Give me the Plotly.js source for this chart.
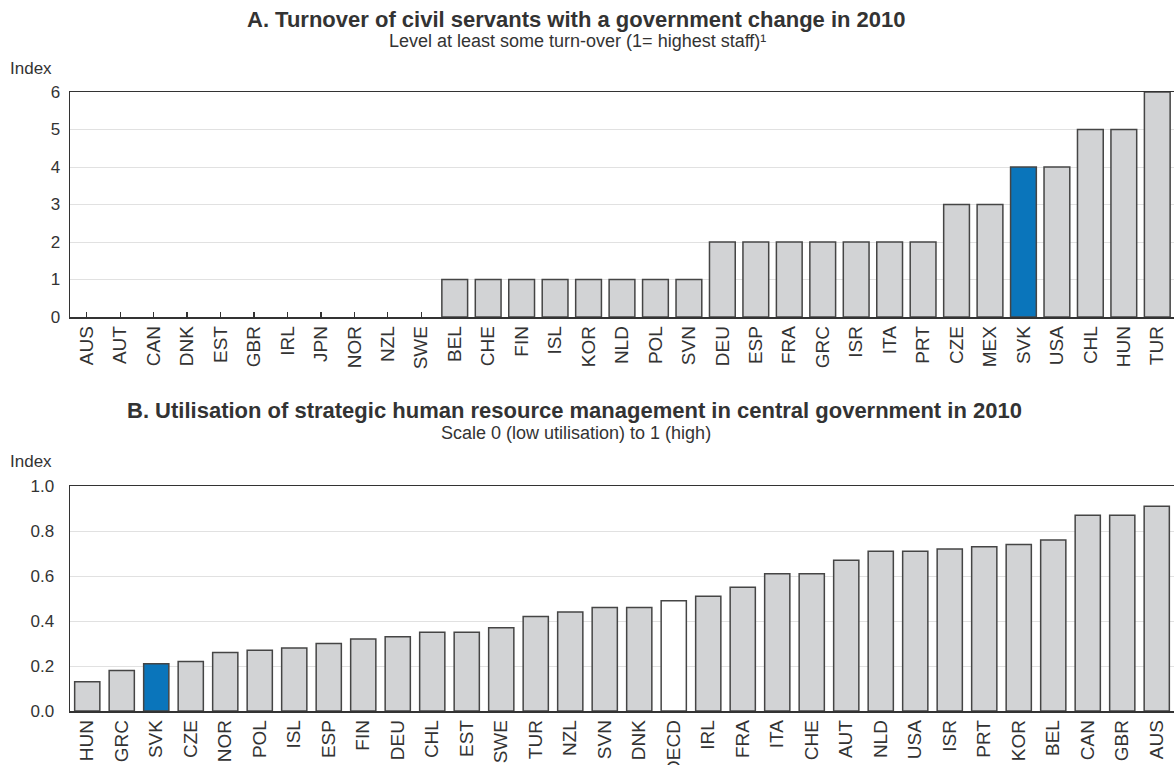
<!DOCTYPE html>
<html>
<head>
<meta charset="utf-8">
<script src="https://cdn.plot.ly/plotly-3.0.1.min.js"></script>
<style>html,body{margin:0;padding:0;background:#fff;}#chart{width:1175px;height:765px;}</style>
</head>
<body>
<div id="chart"></div>
<script>
// Panel A
const catsA = ["AUS","AUT","CAN","DNK","EST","GBR","IRL","JPN","NOR","NZL","SWE","BEL","CHE","FIN","ISL","KOR","NLD","POL","SVN","DEU","ESP","FRA","GRC","ISR","ITA","PRT","CZE","MEX","SVK","USA","CHL","HUN","TUR"];
const valsA = [0,0,0,0,0,0,0,0,0,0,0,1,1,1,1,1,1,1,1,2,2,2,2,2,2,2,3,3,4,4,5,5,6];
// Panel B
const catsB = ["HUN","GRC","SVK","CZE","NOR","POL","ISL","ESP","FIN","DEU","CHL","EST","SWE","TUR","NZL","SVN","DNK","OECD","IRL","FRA","ITA","CHE","AUT","NLD","USA","ISR","PRT","KOR","BEL","CAN","GBR","AUS"];
const valsB = [0.13,0.18,0.21,0.22,0.26,0.27,0.28,0.30,0.32,0.33,0.35,0.35,0.37,0.42,0.44,0.46,0.46,0.49,0.51,0.55,0.61,0.61,0.67,0.71,0.71,0.72,0.73,0.74,0.76,0.87,0.87,0.91];

const titleA = "A. Turnover of civil servants with a government change in 2010";
const subA = "Level at least some turn-over (1= highest staff)¹";
const titleB = "B. Utilisation of strategic human resource management in central government in 2010";
const subB = "Scale 0 (low utilisation) to 1 (high)";
const yTitle = "Index";

const GREY = "#d2d3d5", BLUE = "#0a75bb", WHITE = "#ffffff", EDGE = "#454545";
function colorFor(c){ return c === "SVK" ? BLUE : (c === "OECD" ? WHITE : GREY); }

const H = 765, PW = 1104;
const FONT = "Liberation Sans, Arial, Helvetica, sans-serif";
const TXT = "#333333";

const traces = [
  {type:"bar", x:catsA, y:valsA, xaxis:"x", yaxis:"y", width:0.77,
   marker:{color:catsA.map(colorFor), line:{color:EDGE, width:valsA.map(v => v === 0 ? 0 : 1.5)}}, hoverinfo:"x+y"},
  {type:"bar", x:catsB, y:valsB, xaxis:"x2", yaxis:"y2", width:0.73,
   marker:{color:catsB.map(colorFor), line:{color:EDGE, width:1.5}}, hoverinfo:"x+y"}
];

function py(p){ return 1 - p/H; }
function px(x){ return (x - 70)/PW; }

const axX = {
  type:"category", showgrid:false, showline:true, linecolor:"#333", linewidth:1.5,
  mirror:true, tickangle:-90,
  tickfont:{size:19, color:TXT, family:FONT}, layer:"below traces", fixedrange:true
};
const axY = {
  showline:true, linecolor:"#333", linewidth:1.5, showgrid:true, gridcolor:"#e1e1e1",
  gridwidth:1, ticks:"outside", tickcolor:"rgba(0,0,0,0)", zeroline:false,
  tickfont:{size:17, color:TXT, family:FONT}, fixedrange:true
};

const layout = {
  width:1175, height:765,
  margin:{l:70, r:1, t:0, b:0},
  paper_bgcolor:"#fff", plot_bgcolor:"#fff",
  showlegend:false,
  font:{family:FONT, color:TXT},
  xaxis: Object.assign({}, axX, {domain:[0,1], anchor:"y", range:[-0.5, catsA.length-0.5], ticks:"inside", ticklen:5, tickwidth:1.2, tickcolor:"#333"}),
  yaxis: Object.assign({}, axY, {domain:[py(317), py(92)], anchor:"x", range:[0,6], dtick:1, ticklen:5}),
  xaxis2: Object.assign({}, axX, {domain:[0,1], anchor:"y2", range:[-0.5, catsB.length-0.5], ticks:""}),
  yaxis2: Object.assign({}, axY, {domain:[py(711), py(486)], anchor:"x2", range:[0,1], dtick:0.2, tickformat:".1f", ticklen:11}),
  annotations:[
    {text:"<b>"+titleA+"</b>", xref:"paper", yref:"paper", x:px(576), y:py(19), xanchor:"center", yanchor:"middle", showarrow:false, font:{size:22, color:TXT, family:FONT}},
    {text:subA, xref:"paper", yref:"paper", x:px(577), y:py(41), xanchor:"center", yanchor:"middle", showarrow:false, font:{size:18, color:TXT, family:FONT}},
    {text:yTitle, xref:"paper", yref:"paper", x:px(8), y:py(68), xanchor:"left", yanchor:"middle", showarrow:false, font:{size:17, color:TXT, family:FONT}},
    {text:"<b>"+titleB+"</b>", xref:"paper", yref:"paper", x:px(574), y:py(410), xanchor:"center", yanchor:"middle", showarrow:false, font:{size:22, color:TXT, family:FONT}},
    {text:subB, xref:"paper", yref:"paper", x:px(576), y:py(433), xanchor:"center", yanchor:"middle", showarrow:false, font:{size:18, color:TXT, family:FONT}},
    {text:yTitle, xref:"paper", yref:"paper", x:px(8), y:py(461), xanchor:"left", yanchor:"middle", showarrow:false, font:{size:17, color:TXT, family:FONT}}
  ]
};

Plotly.newPlot("chart", traces, layout, {displayModeBar:false, staticPlot:true});
</script>
</body>
</html>
